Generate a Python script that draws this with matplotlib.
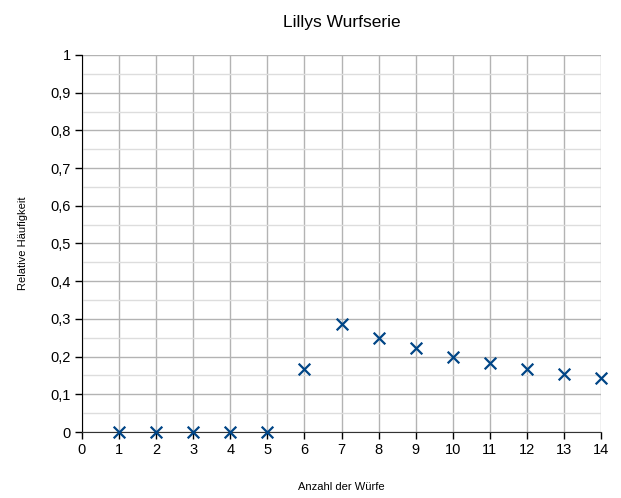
import matplotlib
matplotlib.use("Agg")
import matplotlib.pyplot as plt
from matplotlib.ticker import MultipleLocator, FuncFormatter

plt.rcParams["font.family"] = ["Liberation Sans", "DejaVu Sans"]

# Lillys Wurfserie: relative Häufigkeit nach n Würfen
wuerfe = [1, 2, 3, 4, 5, 6, 7, 8, 9, 10, 11, 12, 13, 14]
rel_haeufigkeit = [0, 0, 0, 0, 0, 0.1667, 0.2857, 0.25, 0.2222, 0.2,
                   0.1818, 0.1667, 0.1538, 0.1429]

fig = plt.figure(figsize=(6.21, 4.98), dpi=100)
ax = fig.add_axes([82 / 621, 1 - 432 / 498, (601 - 82) / 621, (432 - 55) / 498])

ax.scatter(wuerfe, rel_haeufigkeit, marker="x", s=70, color="#004586",
           linewidths=1.6, zorder=5, clip_on=False)

ax.set_xlim(0, 14)
ax.set_ylim(0, 1)
ax.xaxis.set_major_locator(MultipleLocator(1))
ax.yaxis.set_major_locator(MultipleLocator(0.1))
ax.yaxis.set_minor_locator(MultipleLocator(0.05))
ax.yaxis.set_major_formatter(FuncFormatter(
    lambda v, _: f"{v:.1f}".replace(".", ",").replace("0,0", "0").replace("1,0", "1")))

ax.grid(which="major", color="#b3b3b3", lw=1)
ax.grid(which="minor", axis="y", color="#dddddd", lw=1)
ax.set_axisbelow(True)
for s in ("top", "right"):
    ax.spines[s].set_visible(False)
ax.spines["left"].set_color("black")
ax.spines["bottom"].set_color("#333333")
ax.tick_params(which="major", direction="out", length=5, width=1, labelsize=10.5,
               pad=3)
ax.tick_params(which="minor", length=0)

ax.set_title("Lillys Wurfserie", fontsize=12.5, pad=20)
ax.set_xlabel("Anzahl der Würfe", fontsize=8, labelpad=18)
ax.set_ylabel("Relative Häufigkeit", fontsize=8, labelpad=16)

fig.savefig("out.png", dpi=100)
